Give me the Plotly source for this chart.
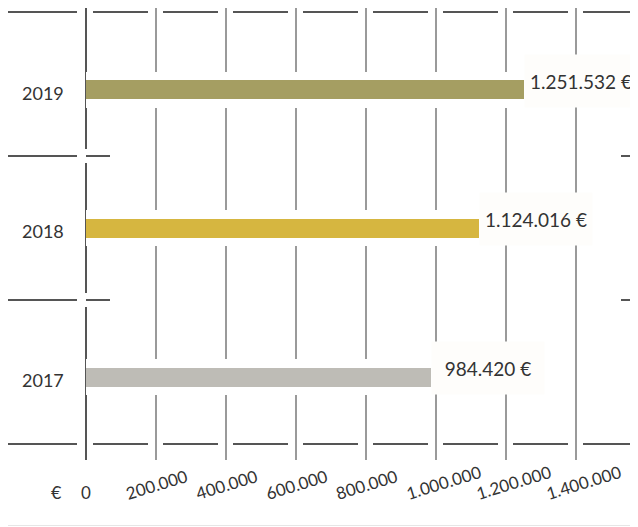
import plotly.graph_objects as go

# ---- data ----
YEARS = ["2017", "2018", "2019"]
VALUES = [984420, 1124016, 1251532]
VALUE_LABELS = ["984.420 €", "1.124.016 €", "1.251.532 €"]
BAR_COLORS = ["#bebcb6", "#d6b640", "#a59e62"]
TICK_VALUES = [0, 200000, 400000, 600000, 800000, 1000000, 1200000, 1400000]
TICK_LABELS = ["0", "200.000", "400.000", "600.000", "800.000", "1.000.000", "1.200.000", "1.400.000"]
CURRENCY = "€"

# ---- layout geometry (page pixels; the page body adds an 8px offset) ----
OFF = 8
W, H = 638 - OFF, 527 - OFF
PLOT_LEFT, PLOT_RIGHT, PLOT_TOP, PLOT_BOTTOM = 8, 638, 8, 460
X0_PX = 86            # pixel of value 0
PX_PER_UNIT = 70 / 200000
CAT_PX = 144          # pixels per category
TOP_LINE_PX = 12      # pixel of category boundary 2.5


def px2x(px):
    return (px - X0_PX) / PX_PER_UNIT


def px2y(py):
    return 2.5 - (py - TOP_LINE_PX) / CAT_PX


def px2paper_y(py):
    return (PLOT_BOTTOM - py) / (PLOT_BOTTOM - PLOT_TOP)


BAR_SHIFT_PX = [5, 0, 5.5]   # downward shift of each bar from category centre
BAR_W = 19 / CAT_PX
BAND_W = 36 / CAT_PX

TEXT = "#333333"
FONT = "Lato"

fig = go.Figure()

# white band behind each bar (interrupts gridlines)
fig.add_trace(go.Bar(
    orientation="h", y=YEARS, x=VALUES,
    width=BAND_W,
    offset=[-s / CAT_PX - BAND_W / 2 for s in BAR_SHIFT_PX],
    marker=dict(color="white", line=dict(width=0)),
    hoverinfo="skip", showlegend=False,
))
# coloured bars
fig.add_trace(go.Bar(
    orientation="h", y=YEARS, x=VALUES,
    width=BAR_W,
    offset=[-s / CAT_PX - BAR_W / 2 for s in BAR_SHIFT_PX],
    marker=dict(color=BAR_COLORS, line=dict(width=0)),
    hoverinfo="skip", showlegend=False,
))

shapes = []
LINE = dict(color="#555555", width=2)
# top / bottom category boundaries (broken at each gridline)
for yb in (-0.5, 2.5):
    shapes.append(dict(type="line", xref="x", yref="y", x0=px2x(7), x1=px2x(77),
                       y0=yb, y1=yb, line=LINE, layer="below"))
    shapes.append(dict(type="line", xref="x", yref="y", x0=px2x(93), x1=px2x(638),
                       y0=yb, y1=yb, line=dict(LINE, dash="55px,15px"), layer="below"))
# middle boundaries: only stubs visible
for yb in (0.5, 1.5):
    ypx = TOP_LINE_PX + (2.5 - yb) * CAT_PX
    shapes.append(dict(type="rect", xref="x", yref="y", x0=px2x(83), x1=px2x(89.5),
                       y0=px2y(ypx - 7), y1=px2y(ypx + 7),
                       fillcolor="white", line=dict(width=0), layer="above"))
    for a, b in ((7, 77), (86, 110), (621, 638)):
        shapes.append(dict(type="line", xref="x", yref="y", x0=px2x(a), x1=px2x(b),
                           y0=yb, y1=yb, line=LINE, layer="above"))
# faint line at the very bottom
shapes.append(dict(type="line", xref="paper", yref="paper",
                   x0=0, x1=1, y0=px2paper_y(525.5), y1=px2paper_y(525.5),
                   line=dict(color="#e6e6e6", width=1)))

annotations = []
# value labels with white boxes
for i, (v, lab, s) in enumerate(zip(VALUES, VALUE_LABELS, BAR_SHIFT_PX)):
    annotations.append(dict(
        x=v, y=i, xref="x", yref="y", text=lab, showarrow=False,
        xanchor="left", yanchor="middle", yshift=9 - s,
        width=112, height=52, borderpad=0, align="center",
        bgcolor="#fefdfb", font=dict(family=FONT, size=19, color=TEXT),
    ))
# category labels
for i, (yr, s) in enumerate(zip(YEARS, BAR_SHIFT_PX)):
    annotations.append(dict(
        x=0, y=i, xref="x", yref="y", text=yr, showarrow=False,
        xanchor="right", yanchor="middle", xshift=-20, yshift=-(s + 3),
        font=dict(family=FONT, size=18, color=TEXT),
    ))
# x tick labels
for tv, tl in zip(TICK_VALUES, TICK_LABELS):
    if tv == 0:
        annotations.append(dict(
            x=tv, y=px2paper_y(492), xref="x", yref="paper", text=tl, showarrow=False,
            xanchor="center", yanchor="middle",
            font=dict(family=FONT, size=17, color=TEXT),
        ))
    else:
        annotations.append(dict(
            x=tv, y=px2paper_y(506), xref="x", yref="paper", text=tl, showarrow=False,
            xanchor="left", yanchor="bottom", xshift=-35, textangle=-17,
            font=dict(family=FONT, size=17, color=TEXT),
        ))
annotations.append(dict(
    x=0, y=px2paper_y(492), xref="x", yref="paper", text=CURRENCY, showarrow=False,
    xanchor="center", yanchor="middle", xshift=-29.5,
    font=dict(family=FONT, size=18, color=TEXT),
))

fig.update_layout(
    width=W, height=H,
    margin=dict(l=PLOT_LEFT - OFF, r=638 - PLOT_RIGHT, t=PLOT_TOP - OFF,
                b=527 - PLOT_BOTTOM, pad=0, autoexpand=False),
    paper_bgcolor="white", plot_bgcolor="white",
    barmode="overlay", bargap=0,
    showlegend=False,
    shapes=shapes, annotations=annotations,
    xaxis=dict(
        range=[px2x(PLOT_LEFT), px2x(PLOT_RIGHT)],
        tickmode="array", tickvals=TICK_VALUES,
        showticklabels=False, ticks="",
        showgrid=True, gridcolor="#9a9a9a", gridwidth=2,
        zeroline=True, zerolinecolor="#555555", zerolinewidth=2,
        showline=False, fixedrange=True,
    ),
    yaxis=dict(
        type="category", categoryorder="array", categoryarray=YEARS,
        range=[px2y(PLOT_BOTTOM), px2y(PLOT_TOP)],
        showticklabels=False, ticks="", showgrid=False, zeroline=False,
        showline=False, fixedrange=True,
    ),
)

fig.write_html("out.html")
